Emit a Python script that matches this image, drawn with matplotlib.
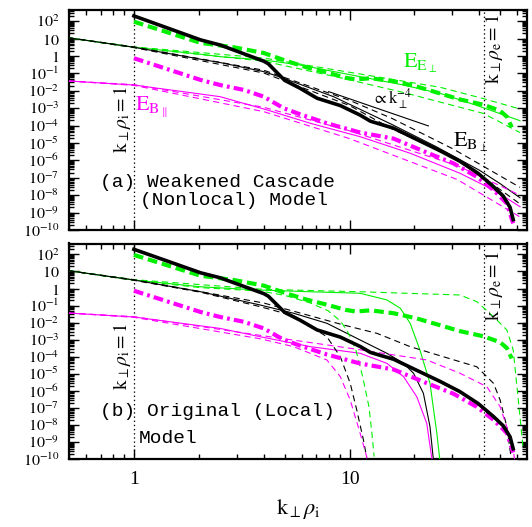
import numpy as np
import matplotlib
matplotlib.use('Agg')
import matplotlib.pyplot as plt
from matplotlib.ticker import FixedLocator, LogLocator, NullFormatter

plt.rcParams['mathtext.fontset'] = 'stix'
plt.rcParams['font.family'] = ['Liberation Serif', 'DejaVu Serif']
plt.rcParams['lines.scale_dashes'] = False

# ---------------- data (spectra given as log10 values) ----------------
# simulation spectra (same in both panels)
k_sim_bperp = [1.0, 2.04, 2.51, 4.0, 4.2, 5.0, 5.9, 7.07, 9.06, 11.2, 12.5, 16.0, 20.5, 26.3, 32.5, 39.5, 46.4, 51.6, 55.5, 57.4]
log_sim_bperp = [2.30, 0.92, 0.63, -0.30, -0.45, -1.40, -1.86, -2.43, -2.85, -3.40, -3.75, -4.15, -4.80, -5.45, -6.05, -6.75, -7.50, -8.05, -8.70, -9.40]
k_sim_eperp = [1.0, 2.04, 2.9, 4.0, 5.13, 6.31, 7.85, 9.55, 10.7, 12.5, 16.0, 20.4, 25.4, 32.5, 41.7, 49.9, 53.7, 56.5]
log_sim_eperp = [1.97, 0.75, 0.50, 0.17, -0.30, -0.65, -0.95, -1.25, -1.35, -1.28, -1.45, -1.75, -2.10, -2.50, -2.80, -3.15, -3.50, -4.10]
k_sim_bpar = [1.0, 2.04, 2.51, 3.23, 4.0, 4.94, 5.89, 7.85, 11.2, 16.0, 22.8, 30.3, 38.9, 46.5, 53.6, 57.4]
log_sim_bpar = [-0.13, -1.38, -1.67, -1.95, -2.34, -3.0, -3.35, -3.87, -4.40, -4.75, -5.55, -6.17, -6.94, -7.70, -8.47, -9.62]

# panel (a) weakened cascade model
kA_ee = [0.5, 1.0, 2.04, 2.51, 4.0, 5.89, 11.2, 17.8, 27.2, 40.3, 61.7]
logA_ee = [1.04, 0.50, 0.10, -0.04, -0.23, -0.52, -1.19, -1.67, -2.20, -2.91, -3.72]
kA_ee_hi = [0.5, 1.0, 4.0, 9.06, 26.3, 41.7, 61.7]
logA_ee_hi = [1.04, 0.52, -0.12, -0.85, -1.80, -2.45, -3.05]
kA_ee_lo = [0.5, 1.0, 4.0, 9.06, 17.8, 41.7, 61.7]
logA_ee_lo = [1.04, 0.48, -0.30, -1.25, -2.10, -3.30, -4.40]

kA_bb = [0.5, 1.0, 2.04, 2.51, 4.0, 4.94, 8.43, 15.8, 25.1, 39.8, 50.1, 61.7]
logA_bb = [1.04, 0.50, -0.19, -0.38, -0.90, -1.28, -2.34, -3.95, -5.20, -6.55, -7.35, -8.15]
kA_bb_hi = [0.5, 1.0, 4.0, 10.0, 15.8, 30.3, 61.7]
logA_bb_hi = [1.04, 0.52, -0.82, -2.55, -3.60, -5.35, -7.55]
kA_bb_lo = [0.5, 1.0, 4.0, 10.0, 15.8, 31.6, 61.7]
logA_bb_lo = [1.04, 0.48, -0.98, -2.85, -4.20, -5.90, -8.50]

kA_bpar = [0.5, 1.0, 2.51, 4.14, 6.58, 11.2, 19.1, 32.5, 46.5, 61.7]
logA_bpar = [-1.44, -1.67, -2.34, -3.10, -3.87, -4.64, -5.59, -6.74, -7.70, -8.66]
kA_bpar_hi = [0.5, 1.0, 4.0, 10.0, 31.6, 61.7]
logA_bpar_hi = [-1.44, -1.65, -2.95, -4.30, -6.30, -8.00]
kA_bpar_lo = [0.5, 1.0, 4.0, 10.0, 31.6, 61.7]
logA_bpar_lo = [-1.44, -1.69, -3.20, -4.75, -7.10, -9.25]

k_ref = [8.0, 23.2]
log_ref = [-2.05, -4.02]

# panel (b) original local model
kB_ee = [0.5, 1.0, 2.04, 3.86, 6.58, 11.2, 14.9, 17.2, 19.1, 21.2, 23.6, 25.4, 26.3]
logB_ee = [1.04, 0.50, 0.10, -0.09, -0.19, -0.28, -0.67, -1.16, -2.04, -3.61, -5.56, -8.5, -10.2]
kB_ee_hi = [0.5, 1.0, 4.0, 11.2, 32.5, 38.9, 46.5, 53.6, 57.4, 60.6, 63.9]
logB_ee_hi = [1.04, 0.52, -0.05, -0.19, -0.38, -0.77, -1.65, -2.43, -3.6, -6.54, -9.47]
kB_ee_lo = [0.5, 1.0, 2.04, 3.86, 5.0, 6.58, 7.94, 9.06, 9.77, 10.7, 11.5, 12.3, 12.7, 13.0]
logB_ee_lo = [1.04, 0.48, 0.05, -0.15, -0.40, -0.85, -1.30, -1.90, -2.50, -3.60, -5.17, -6.93, -8.5, -9.86]

kB_bb = [0.5, 1.0, 2.04, 3.86, 5.5, 7.85, 11.2, 14.9, 17.8, 19.8, 22.0, 23.6, 24.5]
logB_bb = [1.04, 0.50, -0.19, -0.97, -1.45, -2.04, -3.02, -3.80, -4.39, -4.97, -6.15, -8.1, -10.1]
kB_bb_hi = [0.5, 1.0, 4.0, 9.38, 13.4, 19.1, 27.2, 38.9, 46.5, 49.9, 53.6, 55.5, 56.5]
logB_bb_hi = [1.04, 0.52, -0.85, -2.14, -2.63, -3.41, -4.0, -4.59, -5.56, -6.54, -8.1, -9.47, -10.2]
kB_bb_lo = [0.5, 1.0, 2.04, 3.86, 5.5, 7.85, 9.06, 10.07, 10.8, 11.6, 12.0]
logB_bb_lo = [1.04, 0.48, -0.22, -1.07, -1.60, -2.83, -4.0, -5.56, -7.13, -8.89, -9.9]

kB_bpar = [0.5, 1.0, 2.51, 3.86, 6.58, 11.2, 14.9, 17.8, 20.5, 22.8, 24.0, 24.4]
logB_bpar = [-1.44, -1.67, -2.34, -2.83, -3.41, -3.80, -4.39, -5.17, -6.35, -7.91, -9.86, -10.2]
kB_bpar_hi = [0.5, 1.0, 3.86, 10.0, 22.8, 32.5, 43.3, 49.9, 53.6, 57.4, 58.5]
logB_bpar_hi = [-1.44, -1.65, -2.75, -3.50, -4.19, -4.97, -5.76, -6.93, -8.1, -9.47, -10.2]
kB_bpar_lo = [0.5, 1.0, 3.86, 5.5, 7.85, 9.06, 10.07, 11.2, 12.0, 12.2]
logB_bpar_lo = [-1.44, -1.69, -2.95, -3.41, -4.19, -5.17, -6.54, -8.5, -9.86, -10.2]

k_rho_i = 1.0
k_rho_e = 42.0
y_tick_exps = list(range(-10, 3))
y_tick_labels = ['$10^{-10}$', '$10^{-9}$', '$10^{-8}$', '$10^{-7}$', '$10^{-6}$', '$10^{-5}$',
                 '$10^{-4}$', '$10^{-3}$', '$10^{-2}$', '$10^{-1}$', '$1$', '$10$', '$10^{2}$']
x_ticks = [1, 10]
x_tick_labels = ['1', '10']

GREEN = '#00f000'
MAG = '#ff00ff'

# ---------------- figure ----------------
fig = plt.figure(figsize=(5.32, 5.27), dpi=100)
W, H = 532.0, 527.0
axA = fig.add_axes([69 / W, 1 - 230 / H, 458 / W, 220 / H])
axB = fig.add_axes([69 / W, 1 - 459 / H, 458 / W, 215.5 / H])

thin = 0.8
dash_thin = (0, (4.5, 3.0))
thick_dash = (0, (7.0, 3.5))
thick_dashdot = (0, (7.0, 3.0, 2.0, 3.0))


def p(k, lg):
    return np.asarray(k, float), np.power(10.0, np.asarray(lg, float))


def draw_common(ax):
    ax.set_xscale('log')
    ax.set_yscale('log')
    ax.set_xlim(0.5, 66.5)
    ax.set_ylim(1e-10, 10 ** 2.64)
    ax.axvline(k_rho_i, color='k', lw=0.9, ls=(0, (1, 2)))
    ax.axvline(k_rho_e, color='k', lw=0.9, ls=(0, (1, 2)))
    ax.yaxis.set_major_locator(FixedLocator([10.0 ** e for e in y_tick_exps]))
    ax.yaxis.set_minor_locator(LogLocator(base=10, subs=np.arange(2, 10), numticks=100))
    ax.set_yticklabels(y_tick_labels, fontsize=11.5)
    ax.xaxis.set_major_locator(FixedLocator(x_ticks))
    ax.xaxis.set_minor_locator(LogLocator(base=10, subs=np.arange(2, 10), numticks=100))
    ax.xaxis.set_minor_formatter(NullFormatter())
    ax.yaxis.set_minor_formatter(NullFormatter())
    ax.tick_params(which='both', direction='in', top=True, right=True, width=1.0)
    ax.tick_params(which='major', length=7)
    ax.tick_params(which='minor', length=3.5)
    ax.tick_params(axis='y', pad=7)
    for s in ax.spines.values():
        s.set_linewidth(1.6)
    # simulation
    ax.plot(*p(k_sim_eperp, log_sim_eperp), color=GREEN, lw=3.0, ls=thick_dash, zorder=4)
    ax.plot(*p(k_sim_bpar, log_sim_bpar), color=MAG, lw=3.0, ls=thick_dashdot, zorder=4)
    ax.plot(*p(k_sim_bperp, log_sim_bperp), color='k', lw=2.6, zorder=5)


def draw_model(ax, ee, ee_hi, ee_lo, bb, bb_hi, bb_lo, bp, bp_hi, bp_lo):
    for (k, lg), c in [(ee, GREEN), (bb, 'k'), (bp, MAG)]:
        ax.plot(*p(k, lg), color=c, lw=thin, zorder=3)
    for (k, lg), c in [(ee_hi, GREEN), (ee_lo, GREEN), (bb_hi, 'k'), (bb_lo, 'k'),
                       (bp_hi, MAG), (bp_lo, MAG)]:
        ax.plot(*p(k, lg), color=c, lw=thin, ls=dash_thin, zorder=3)


# panel a
draw_common(axA)
draw_model(axA, (kA_ee, logA_ee), (kA_ee_hi, logA_ee_hi), (kA_ee_lo, logA_ee_lo),
           (kA_bb, logA_bb), (kA_bb_hi, logA_bb_hi), (kA_bb_lo, logA_bb_lo),
           (kA_bpar, logA_bpar), (kA_bpar_hi, logA_bpar_hi), (kA_bpar_lo, logA_bpar_lo))
axA.plot(*p(k_ref, log_ref), color='k', lw=thin)
axA.set_xticklabels([])

# panel b
draw_common(axB)
draw_model(axB, (kB_ee, logB_ee), (kB_ee_hi, logB_ee_hi), (kB_ee_lo, logB_ee_lo),
           (kB_bb, logB_bb), (kB_bb_hi, logB_bb_hi), (kB_bb_lo, logB_bb_lo),
           (kB_bpar, logB_bpar), (kB_bpar_hi, logB_bpar_hi), (kB_bpar_lo, logB_bpar_lo))
axB.set_xticklabels(x_tick_labels, fontsize=14)
axB.tick_params(axis='x', pad=9)
axB.set_xlabel(r'$\mathrm{k}_{\perp}\rho_{\mathrm{i}}$', fontsize=16, labelpad=6)

# annotations
rot_i = r'$\mathrm{k}_{\perp}\rho_{\mathrm{i}} = 1$'
rot_e = r'$\mathrm{k}_{\perp}\rho_{\mathrm{e}} = 1$'
for ax, yi, ye in [(axA, 0.505, 0.82), (axB, 0.478, 0.80)]:
    ax.text(0.115, yi, rot_i, transform=ax.transAxes, rotation=90, ha='center', va='center', fontsize=14)
    ax.text(0.928, ye, rot_e, transform=ax.transAxes, rotation=90, ha='center', va='center', fontsize=14)

mono = dict(family='Liberation Mono', fontsize=14)
axA.text(0.068, 0.218, '(a) Weakened Cascade', transform=axA.transAxes, va='center', ha='left', **mono)
axA.text(0.155, 0.136, '(Nonlocal) Model', transform=axA.transAxes, va='center', ha='left', **mono)
axB.text(0.068, 0.219, '(b) Original (Local)', transform=axB.transAxes, va='center', ha='left', **mono)
axB.text(0.153, 0.097, 'Model', transform=axB.transAxes, va='center', ha='left', **mono)

axA.text(0.144, 0.545, r'$\mathrm{E}_{\mathrm{B}_{\parallel}}$', transform=axA.transAxes,
         color=MAG, fontsize=16, ha='left', va='baseline')
axA.text(0.729, 0.736, r'$\mathrm{E}_{\mathrm{E}_{\perp}}$', transform=axA.transAxes,
         color=GREEN, fontsize=16, ha='left', va='baseline')
axA.text(0.838, 0.377, r'$\mathrm{E}_{\mathrm{B}_{\perp}}$', transform=axA.transAxes,
         color='k', fontsize=16, ha='left', va='baseline')
axA.text(0.662, 0.573, r'$\propto\mathrm{k}_{\perp}^{-4}$', transform=axA.transAxes,
         color='k', fontsize=12, ha='left', va='baseline')

fig.savefig('out.png', dpi=100)
